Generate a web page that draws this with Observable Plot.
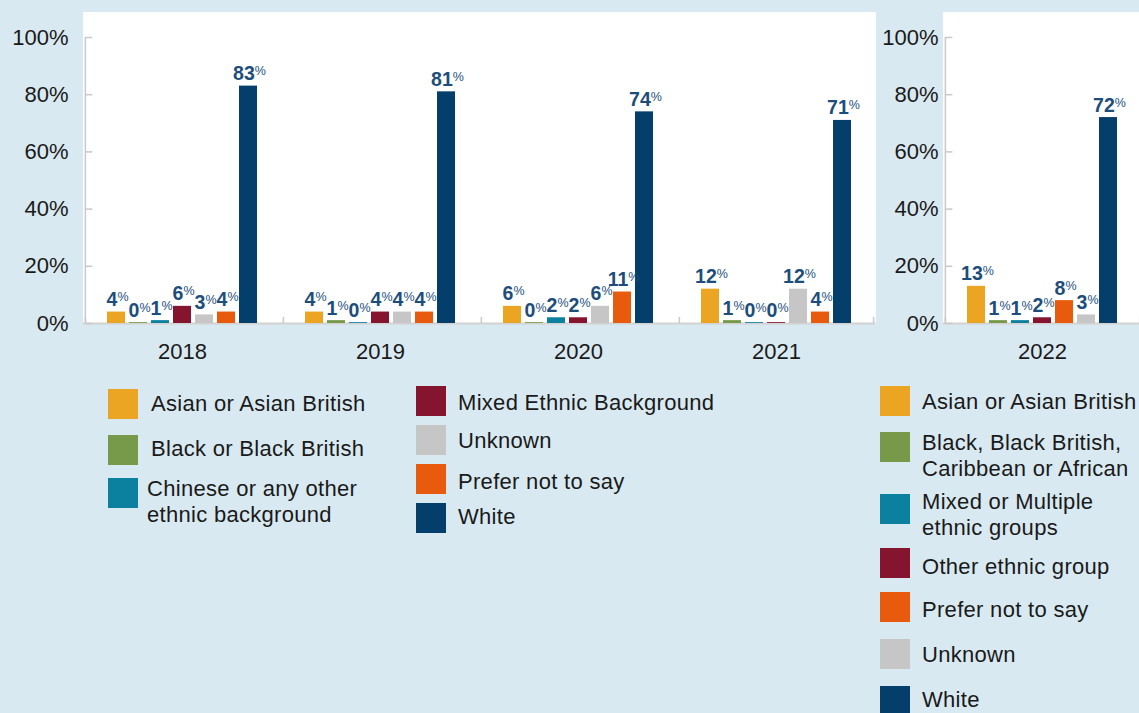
<!DOCTYPE html>
<html>
<head>
<meta charset="utf-8">
<script src="https://cdn.jsdelivr.net/npm/d3@7"></script>
<script src="https://cdn.jsdelivr.net/npm/@observablehq/plot@0.6"></script>
<style>
html, body { margin: 0; padding: 0; background: #d9e9f1; width: 1139px; height: 713px; overflow: hidden; }
body { font-family: "Liberation Sans", Arial, Helvetica, sans-serif; }
#wrap { position: relative; width: 1139px; height: 713px; overflow: hidden; }
.panel { position: absolute; background: #ffffff; }
.chart { position: absolute; top: 0; width: 900px; }
.chart svg { max-width: none !important; display: block; }
.sw { position: absolute; width: 30px; height: 30px; }
.lt { position: absolute; font-size: 22px; line-height: 26px; color: #1a1a1a; letter-spacing: 0.3px; }
</style>
</head>
<body>
<div id="wrap">
  <div class="panel" style="left:83px;top:12px;width:793px;height:311px;"></div>
  <div class="panel" style="left:943px;top:12px;width:196px;height:311px;"></div>
  <div class="chart" id="chartA" style="left:0px;"></div>
  <div class="chart" id="chartB" style="left:860px;"></div>
  <div id="legend"></div>
</div>
<script>
// ---------- data ----------
const years = ["2018", "2019", "2020", "2021"];
const catsA = ["Asian or Asian British", "Black or Black British", "Chinese or any other ethnic background",
               "Mixed Ethnic Background", "Unknown", "Prefer not to say", "White"];
const colorsA = ["#eba522", "#76994a", "#0b809f", "#85152e", "#c6c6c6", "#e85a0e", "#043f6c"];
const v2018 = [4, 0.3, 1, 6, 3, 4, 83];
const v2019 = [4, 1, 0.3, 4, 4, 4, 81];
const v2020 = [6, 0.3, 2, 2, 6, 11, 74];
const v2021 = [12, 1, 0.3, 0.3, 12, 4, 71];

const year2022 = ["2022"];
const cats2022 = ["Asian or Asian British", "Black, Black British, Caribbean or African", "Mixed or Multiple ethnic groups",
                  "Other ethnic group", "Prefer not to say", "Unknown", "White"];
const colors2022 = ["#eba522", "#76994a", "#0b809f", "#85152e", "#e85a0e", "#c6c6c6", "#043f6c"];
const v2022 = [13, 1, 1, 2, 8, 3, 72];

const yTicks = [0, 20, 40, 60, 80, 100];

// legend order as shown
const legendA1 = [catsA[0], catsA[1], catsA[2]];
const legendA2 = [catsA[3], catsA[4], catsA[5], catsA[6]];

// ---------- layout ----------
const FONT = "Liberation Sans, Arial, Helvetica, sans-serif";
const H = 373, MT = 37, MB = 50;
const PI = 0.16, PO = 0.95;
const FACET_W = (876 - 82) / 4;
const STEP = FACET_W / (7 - PI + 2 * PO);
const BW = STEP * (1 - PI);
const EDGE = PO * STEP + BW / 2;       // distance from facet edge to first band centre
const AXIS = "#c9c9c9";
const LABEL = "#1d4e7b";

const rowsA = years.flatMap((yr, i) => catsA.map((c, j) => ({year: yr, cat: c, value: [v2018, v2019, v2020, v2021][i][j]})));
const rowsB = cats2022.map((c, j) => ({year: "2022", cat: c, value: v2022[j]}));

function build(rows, facets, cats, colors, width, marginLeft, labelPad) {
  const first = facets[0], last = facets[facets.length - 1];
  return Plot.plot({
    width, height: H,
    marginLeft, marginRight: 0, marginTop: MT, marginBottom: MB,
    style: {background: "transparent", fontFamily: FONT, overflow: "visible", maxWidth: "none"},
    fx: {domain: facets, padding: 0, label: null},
    x: {domain: cats, paddingInner: PI, paddingOuter: PO, axis: null},
    y: {domain: [0, 100], axis: null},
    color: {domain: cats, range: colors},
    marks: [
      Plot.ruleY([0], {stroke: "#d2d2d2", strokeWidth: 2}),
      // y axis line
      Plot.ruleX([first], {fx: d => d, x: () => cats[0], y1: 0, y2: 100, dx: -EDGE, stroke: AXIS, strokeWidth: 1.5}),
      // inward y ticks
      Plot.tickY(yTicks, {fx: () => first, x: () => cats[0], y: d => d, dx: -PO * STEP, insetRight: BW - 8, stroke: AXIS, strokeWidth: 1.5}),
      // category boundary ticks
      Plot.ruleX(facets, {fx: d => d, x: () => cats[0], y1: 0, y2: 2.1, dx: -EDGE, stroke: AXIS, strokeWidth: 1.5}),
      Plot.ruleX([last], {fx: d => d, x: () => cats[cats.length - 1], y1: 0, y2: 2.1, dx: EDGE, stroke: AXIS, strokeWidth: 1.5}),
      Plot.barY(rows, {fx: "year", x: "cat", y: "value", fill: "cat"}),
      Plot.text(rows, {fx: "year", x: "cat", y: "value", text: d => Math.round(d.value) + "%",
        lineAnchor: "bottom", dy: -6, dx: 1, fill: LABEL, fontWeight: "bold", fontSize: 19.5}),
      Plot.axisY(yTicks, {tickSize: 0, tickPadding: labelPad, tickFormat: d => d + "%", fontSize: 22, fill: "#1a1a1a", label: null}),
      Plot.axisFx({anchor: "bottom", tickSize: 0, tickPadding: 20, fontSize: 22, fill: "#1a1a1a", label: null})
    ]
  });
}

function superscript(svg) {
  const ns = "http://www.w3.org/2000/svg";
  svg.querySelectorAll('g[aria-label="text"] text').forEach(t => {
    const s = t.textContent;
    if (!s.endsWith("%")) return;
    const num = s.slice(0, -1);
    t.textContent = "";
    const a = document.createElementNS(ns, "tspan");
    a.textContent = num;
    const b = document.createElementNS(ns, "tspan");
    b.textContent = "%";
    b.setAttribute("font-size", "12.5");
    b.setAttribute("font-weight", "normal");
    b.setAttribute("dy", "-5");
    t.append(a, b);
  });
}

const svgA = build(rowsA, years, catsA, colorsA, 876, 82, 15);
superscript(svgA);
svgA.style.maxWidth = "none";
document.getElementById("chartA").append(svgA);

const svgB = build(rowsB, year2022, cats2022, colors2022, 83 + FACET_W, 83, 5);
superscript(svgB);
svgB.style.maxWidth = "none";
document.getElementById("chartB").append(svgB);

// ---------- legends (HTML) ----------
const legendEl = document.getElementById("legend");
function item(color, text, sx, sy, tx, ty, w) {
  const s = document.createElement("div");
  s.className = "sw";
  s.style.left = sx + "px"; s.style.top = sy + "px"; s.style.background = color;
  const t = document.createElement("div");
  t.className = "lt";
  t.style.left = tx + "px"; t.style.top = ty + "px"; t.style.width = w + "px";
  t.textContent = text;
  legendEl.append(s, t);
}
const colorOfA = c => colorsA[catsA.indexOf(c)];
const colorOfB = c => colors2022[cats2022.indexOf(c)];

// left legend, column 1
const col1Sq = [389, 435, 478];
const col1Tx = [391, 436, 476];
const col1X = [151, 151, 147];
legendA1.forEach((c, i) => item(colorOfA(c), c, 108, col1Sq[i], col1X[i], col1Tx[i], 228));
// left legend, column 2
const col2Sq = [386, 425, 464, 503];
const col2Tx = [390, 428, 469, 504];
legendA2.forEach((c, i) => item(colorOfA(c), c, 416, col2Sq[i], 458, col2Tx[i], 290));
// right legend
const rSq = [386, 432, 494, 548, 592, 639, 686];
const rTx = [389, 430, 489, 554, 597, 642, 687];
cats2022.forEach((c, i) => item(colorOfB(c), c, 880, rSq[i], 922, rTx[i], 226));
</script>
</body>
</html>
